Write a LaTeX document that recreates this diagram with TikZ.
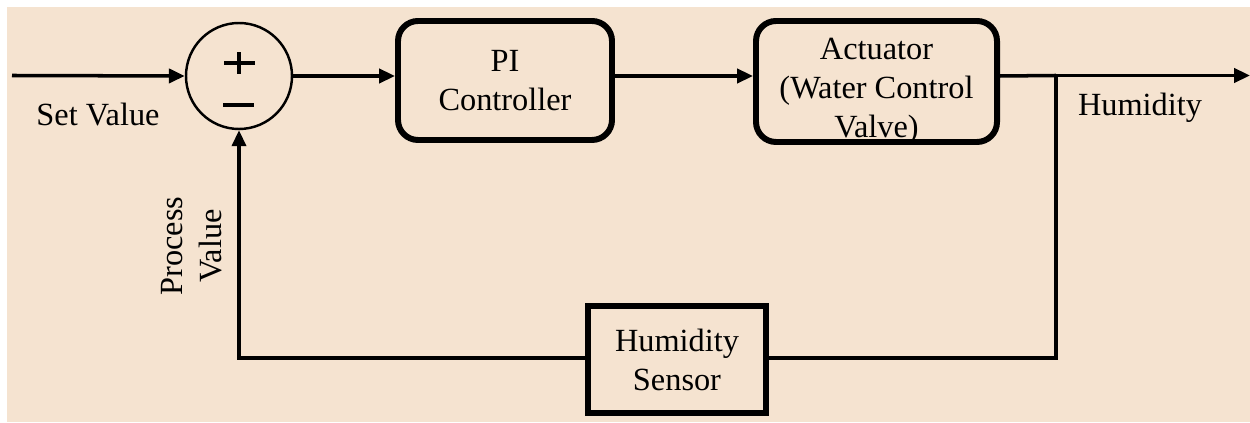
\documentclass[tikz,border=0pt]{standalone}
\usepackage{fontspec}
\setmainfont{Liberation Serif}
\usetikzlibrary{arrows.meta,positioning}
\definecolor{beige}{RGB}{245,227,208}

\begin{document}
\begin{tikzpicture}[>={Triangle[length=9pt,width=8pt]}, line width=2pt, font=\fontsize{18.4}{22.2}\selectfont]
        \tikzset{
          blk/.style    ={draw, line width=3.4pt, rounded corners=0.4cm, align=center, inner sep=0pt},
          sensbox/.style={draw, line width=3.4pt, align=center, inner sep=0pt},
          sm/.style     ={draw, circle, line width=1.4pt, minimum size=2.12cm, inner sep=0pt}
        }
        \useasboundingbox (0,0) rectangle (25,8.46);
        \fill[beige] (0.14,0.02) rectangle (25,8.32);
        %% --- forward path (y=6.95) ---
        \coordinate (in) at (0.24,6.95);
        \node[sm]  (s)   at (4.78,6.94) {};
        \node[blk, minimum width=4.28cm, minimum height=2.38cm] (pi)  at (10.1,6.85) {PI\\Controller};
        \node[blk, minimum width=4.82cm, minimum height=2.42cm] (act) at (17.53,6.83) {};
        \node[align=center] (acttxt) at ([yshift=-0.2cm]act.center) {Actuator\\(Water Control\\Valve)};
        \coordinate (br)  at (21.12,6.95);
        \coordinate (out) at (25,6.95);
        \draw[->] (in)--(s.west);
        \draw[->] (s.east)--(s.east -| pi.west);
        \draw[->] (pi.east |- s.east)--(act.west |- s.east);
        \draw (act.east |- s.east)--(br);
        \draw[->] (br)--(out);
        %% --- summing signs ---
        \draw[line width=2.4pt] ([xshift=-0.30cm,yshift=0.26cm]s.center)--++(0.62,0);
        \draw[line width=2.4pt] ([yshift=0.04cm]s.center)--++(0,0.44);
        \draw[line width=2.8pt] ([xshift=-0.32cm,yshift=-0.58cm]s.center)--++(0.62,0);
        %% --- feedback path (y=1.3) ---
        \node[sensbox, minimum width=3.56cm, minimum height=2.14cm] (sen) at (13.54,1.27) {Humidity\\Sensor};
        \coordinate (bl)  at (4.78,1.3);
        \coordinate (brb) at (21.12,1.3);
        \draw[line width=1.8pt] (br)--(brb)--(sen.east |- brb);
        \draw[->, line width=1.8pt] (sen.west |- bl)--(bl)--(s.south);
        %% --- labels ---
        \node (sv)  at (1.96,6.16) {Set Value};
        \node (hum) at (22.8,6.30) {Humidity};
        \node[rotate=90, align=center] (pv) at (3.84,3.54) {Process\\Value};
\end{tikzpicture}
\end{document}
